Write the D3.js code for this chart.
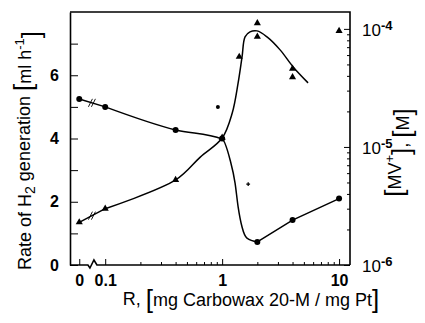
<!DOCTYPE html>
<html lang="en">
<head>
<meta charset="UTF-8">
<title>H2 generation vs Carbowax 20-M</title>
<script src="https://cdn.jsdelivr.net/npm/d3@7"></script>
<style>
  body { margin: 0; background: #fff; }
  svg text { font-family: "Liberation Sans", Arial, sans-serif; fill: #000; }
</style>
</head>
<body>
<div id="chart"></div>
<script>
// measured points, R in mg Carbowax / mg Pt (0 sits left of the axis break)
var rPts = [0, 0.1, 0.4, 1, 2, 4, 10];
var rateVals = [5.25, 5.0, 4.27, 4.0, 0.73, 1.42, 2.1];
var mvR = [0, 0.1, 0.4, 1, 1.4, 2, 2, 4, 4, 10];
var mvVals = [2.3e-6, 3.0e-6, 5.25e-6, 1.2e-5, 5.8e-5, 1.12e-4, 8.6e-5, 4.6e-5, 3.9e-5, 9.6e-5];
var strayR = [0.92], strayRate = [5.0];
var crossR = [1.67], crossRate = [2.56];

// the hand drawn curves
var rateCurveR = [0.1, 0.4, 1.0, 1.17, 1.29, 1.37, 1.48, 1.63, 2.0];
var rateCurveV = [5.0, 4.27, 3.98, 3.32, 2.59, 1.84, 1.2, 0.85, 0.73];
var rateTailR = [2, 4, 10];
var rateTailV = [0.73, 1.42, 2.1];
var mvCurveR = [0.1, 0.4, 0.65, 1.0, 1.22, 1.37, 1.48, 1.57, 1.73, 1.99, 2.42, 3.13, 4.05, 5.43];
var mvCurveV = [3.0e-6, 5.25e-6, 8.2e-6, 1.19e-5, 1.94e-5, 3.49e-5, 5.79e-5, 8.55e-5, 9.43e-5, 9.62e-5, 8.55e-5, 6.64e-5, 4.76e-5, 3.49e-5];

// ticks
var leftTicks = [0, 1, 2, 3, 4, 5, 6, 7];
var leftLabels = ["0", "", "2", "", "4", "", "6", ""];
var xMajor = [0, 0.1, 1, 10];
var xLabels = ["0", "0.1", "1", "10"];
var xMinor = [0.2, 0.3, 0.4, 0.5, 0.6, 0.7, 0.8, 0.9, 2, 3, 4, 5, 6, 7, 8, 9];
var rightMajor = [1e-6, 1e-5, 1e-4];
var rightExp = ["-6", "-5", "-4"];
var rightMinor = [2e-6, 3e-6, 4e-6, 5e-6, 6e-6, 7e-6, 8e-6, 9e-6,
                  2e-5, 3e-5, 4e-5, 5e-5, 6e-5, 7e-5, 8e-5, 9e-5];

var W = 425, H = 323;
var pLeft = 70, pRight = 350, pTop = 12, pBottom = 265;
var zeroAt = 0.06;   // where "0" is placed on the log axis
var breakAt = 0.077; // axis / line break between 0 and 0.1

var svg = d3.select("#chart").append("svg")
  .attr("width", W).attr("height", H);

var x = d3.scaleLog().domain([0.05, 12.4]).range([pLeft, pRight]);
var yL = d3.scaleLinear().domain([0, 8]).range([pBottom, pTop]);
var yR = d3.scaleLog().domain([1e-6, 1.39e-4]).range([pBottom, pTop]);

function xr(r) { return r === 0 ? x(zeroAt) : x(r); }

// frame top + right
svg.append("path")
  .attr("d", "M" + pLeft + "," + pTop + "H" + pRight + "V" + pBottom)
  .attr("fill", "none").attr("stroke", "#000").attr("stroke-width", 1.6);

// left axis, ticks inward
var gL = svg.append("g").attr("transform", "translate(" + pLeft + ",0)")
  .call(d3.axisLeft(yL).tickValues(leftTicks).tickSizeInner(-8).tickSizeOuter(0)
    .tickPadding(11).tickFormat(function (d, i) { return leftLabels[i]; }));
gL.select(".domain").attr("stroke-width", 1.6);
gL.selectAll("text").style("font-size", "16px").style("font-weight", "bold");

// right axis
var gR = svg.append("g").attr("transform", "translate(" + pRight + ",0)")
  .call(d3.axisRight(yR).tickValues(rightMajor).tickSizeInner(-6).tickSizeOuter(0)
    .tickPadding(12).tickFormat(""));
gR.select(".domain").remove();
gR.selectAll("text").each(function (d, i) {
  var t = d3.select(this).attr("dy", "0.4em").style("font-size", "17px");
  t.append("tspan").text("10");
  t.append("tspan").attr("dy", "-0.5em").style("font-size", "13px").style("font-weight", "bold").text(rightExp[i]);
});
svg.append("g").attr("transform", "translate(" + pRight + ",0)")
  .call(d3.axisRight(yR).tickValues(rightMinor).tickSizeInner(-3).tickSizeOuter(0).tickFormat(""))
  .select(".domain").remove();

// bottom axis with a break
var gB = svg.append("g").attr("transform", "translate(0," + pBottom + ")")
  .call(d3.axisBottom(x).tickValues(xMajor.map(function (r) { return r === 0 ? zeroAt : r; }))
    .tickSizeInner(-6).tickSizeOuter(0).tickPadding(10)
    .tickFormat(function (d, i) { return xLabels[i]; }));
gB.select(".domain").remove();
gB.selectAll("text").style("font-size", "16px").style("font-weight", "bold");
svg.append("g").attr("transform", "translate(0," + pBottom + ")")
  .call(d3.axisBottom(x).tickValues(xMinor).tickSizeInner(-3).tickSizeOuter(0).tickFormat(""))
  .select(".domain").remove();

var xb = x(breakAt);
svg.append("path")
  .attr("d", "M" + pLeft + "," + pBottom + "H" + (xb - 4) +
    "L" + (xb - 2) + "," + (pBottom + 3) + "L" + (xb + 2) + "," + (pBottom - 5) +
    "L" + (xb + 5) + "," + pBottom + "H" + pRight)
  .attr("fill", "none").attr("stroke", "#000").attr("stroke-width", 1.6);

// lines
var line = d3.line().curve(d3.curveMonotoneX);
var straight = d3.line();

function breakSeg(r0, v0, r1, v1, ys) {
  var p0 = [xr(r0), ys(v0)], p1 = [xr(r1), ys(v1)];
  svg.append("path").attr("d", straight([p0, p1]))
    .attr("fill", "none").attr("stroke", "#000").attr("stroke-width", 1.5);
  var t = (xb - p0[0]) / (p1[0] - p0[0]);
  var yb = p0[1] + t * (p1[1] - p0[1]);
  [-1.5, 1.5].forEach(function (o) {
    svg.append("line")
      .attr("x1", xb + o - 2).attr("y1", yb + 4)
      .attr("x2", xb + o + 2).attr("y2", yb - 4)
      .attr("stroke", "#000").attr("stroke-width", 0.9);
  });
}

breakSeg(rPts[0], rateVals[0], rPts[1], rateVals[1], yL);
breakSeg(mvR[0], mvVals[0], mvR[1], mvVals[1], yR);

svg.append("path")
  .attr("d", line(rateCurveR.map(function (r, i) { return [x(r), yL(rateCurveV[i])]; })))
  .attr("fill", "none").attr("stroke", "#000").attr("stroke-width", 1.5);
svg.append("path")
  .attr("d", straight(rateTailR.map(function (r, i) { return [x(r), yL(rateTailV[i])]; })))
  .attr("fill", "none").attr("stroke", "#000").attr("stroke-width", 1.5);
svg.append("path")
  .attr("d", d3.line().curve(d3.curveCatmullRom)(mvCurveR.map(function (r, i) { return [x(r), yR(mvCurveV[i])]; })))
  .attr("fill", "none").attr("stroke", "#000").attr("stroke-width", 1.5);

// markers
svg.selectAll(".rate").data(rPts).enter().append("circle")
  .attr("cx", function (d) { return xr(d); })
  .attr("cy", function (d, i) { return yL(rateVals[i]); })
  .attr("r", 3).attr("fill", "#000");

svg.selectAll(".mv").data(mvR).enter().append("path")
  .attr("d", d3.symbol(d3.symbolTriangle).size(22))
  .attr("transform", function (d, i) { return "translate(" + xr(d) + "," + yR(mvVals[i]) + ")"; })
  .attr("fill", "#000");

svg.selectAll(".stray").data(strayR).enter().append("circle")
  .attr("cx", function (d) { return x(d); })
  .attr("cy", function (d, i) { return yL(strayRate[i]); })
  .attr("r", 2).attr("fill", "#000");
svg.selectAll(".cross").data(crossR).enter().append("path")
  .attr("d", d3.symbol(d3.symbolCross).size(8))
  .attr("transform", function (d, i) { return "translate(" + x(d) + "," + yL(crossRate[i]) + ")"; })
  .attr("fill", "#000");

// axis titles
var yt = svg.append("text")
  .attr("transform", "translate(31," + ((pTop + pBottom) / 2 + 12) + ") rotate(-90)")
  .attr("text-anchor", "middle").style("font-size", "18px");
yt.append("tspan").text("Rate of H");
yt.append("tspan").attr("dy", "0.3em").style("font-size", "14px").text("2");
yt.append("tspan").attr("dy", "-0.3em").text(" generation ");
yt.append("tspan").style("font-size", "26px").attr("dy", "0.1em").text("[");
yt.append("tspan").attr("dy", "-0.1em").text("ml h");
yt.append("tspan").attr("dy", "-0.5em").style("font-size", "13px").text("-1");
yt.append("tspan").attr("dy", "0.6em").style("font-size", "26px").text("]");

var rt = svg.append("text")
  .attr("transform", "translate(400," + ((pTop + pBottom) / 2 + 14) + ") rotate(-90)")
  .attr("text-anchor", "middle").style("font-size", "18px");
rt.append("tspan").style("font-size", "26px").attr("dy", "0.1em").text("[");
rt.append("tspan").attr("dy", "-0.1em").text("MV");
rt.append("tspan").attr("dy", "-0.5em").style("font-size", "13px").text("+");
rt.append("tspan").attr("dy", "0.6em").style("font-size", "26px").text("]");
rt.append("tspan").attr("dy", "-0.1em").text(", ");
rt.append("tspan").style("font-size", "26px").attr("dy", "0.1em").text("[");
rt.append("tspan").attr("dy", "-0.1em").text("M");
rt.append("tspan").style("font-size", "26px").attr("dy", "0.1em").text("]");

var bt = svg.append("text")
  .attr("x", 251).attr("y", 305)
  .attr("text-anchor", "middle").style("font-size", "18px");
bt.append("tspan").text("R, ");
bt.append("tspan").style("font-size", "26px").attr("dy", "0.1em").text("[");
bt.append("tspan").attr("dy", "-0.1em").text("mg  Carbowax 20-M / mg Pt");
bt.append("tspan").style("font-size", "26px").attr("dy", "0.1em").text("]");
</script>
</body>
</html>
